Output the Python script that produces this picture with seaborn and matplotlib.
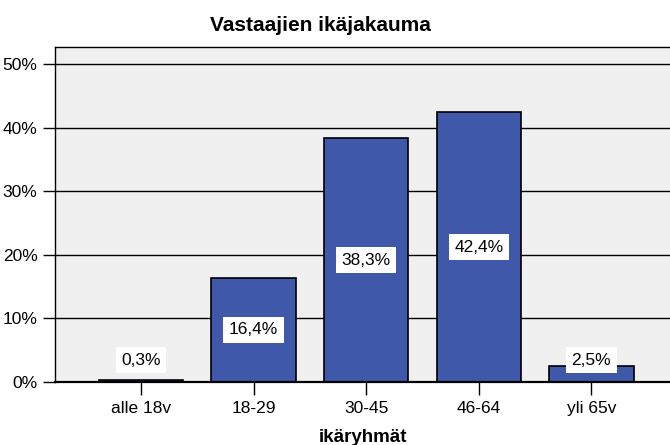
import pandas as pd
import matplotlib.pyplot as plt
import seaborn as sns
from matplotlib.ticker import MultipleLocator, FuncFormatter

# Age groups and their share (%)
groups = ["alle 18v", "18-29", "30-45", "46-64", "yli 65v"]
shares = [0.3, 16.4, 38.3, 42.4, 2.5]

data = pd.DataFrame({"group": groups, "share": shares})

sns.set_style("white")
plt.rcParams["font.family"] = ["Liberation Sans", "DejaVu Sans"]
plt.rcParams.update({"text.color": "black", "axes.labelcolor": "black",
                     "xtick.color": "black", "ytick.color": "black"})

fig = plt.figure(figsize=(6.7, 4.45), dpi=100)
ax = fig.add_axes([0.082, 0.1416, 0.92, 0.753])
ax.set_facecolor("#f0f0f0")

ax.yaxis.set_major_locator(MultipleLocator(10))
ax.grid(axis="y", color="black", linewidth=1)
ax.set_axisbelow(True)

sns.barplot(data=data, x="group", y="share", order=groups, color="#3f58aa",
            saturation=1, edgecolor="black", linewidth=1.2, width=0.75, ax=ax)

# value labels in white boxes
for i, v in enumerate(shares):
    ax.text(i, max(v / 2, 3.4), f"{v:.1f}%".replace(".", ","), ha="center", va="center",
            fontsize=12.5, color="black",
            bbox=dict(facecolor="white", edgecolor="none", pad=4))

ax.set_xlim(-0.765, 4.71)
ax.set_ylim(0, 52.7)
ax.yaxis.set_major_formatter(FuncFormatter(lambda y, _: f"{y:.0f}%"))
ax.tick_params(axis="both", direction="out", length=9, width=1, color="black",
               labelsize=12.5, left=True, bottom=True)
ax.tick_params(axis="x", pad=5)

for side in ["left", "top", "bottom"]:
    ax.spines[side].set_color("black")
    ax.spines[side].set_linewidth(1)
ax.spines["bottom"].set_linewidth(1.6)
ax.spines["right"].set_visible(False)

ax.set_xlabel("ikäryhmät", fontsize=13.5, fontweight="bold", labelpad=9)
ax.set_ylabel("")
fig.text(0.478, 0.943, "Vastaajien ikäjakauma", ha="center", va="center",
         fontsize=15, fontweight="bold")

fig.savefig("out.png", dpi=100)
